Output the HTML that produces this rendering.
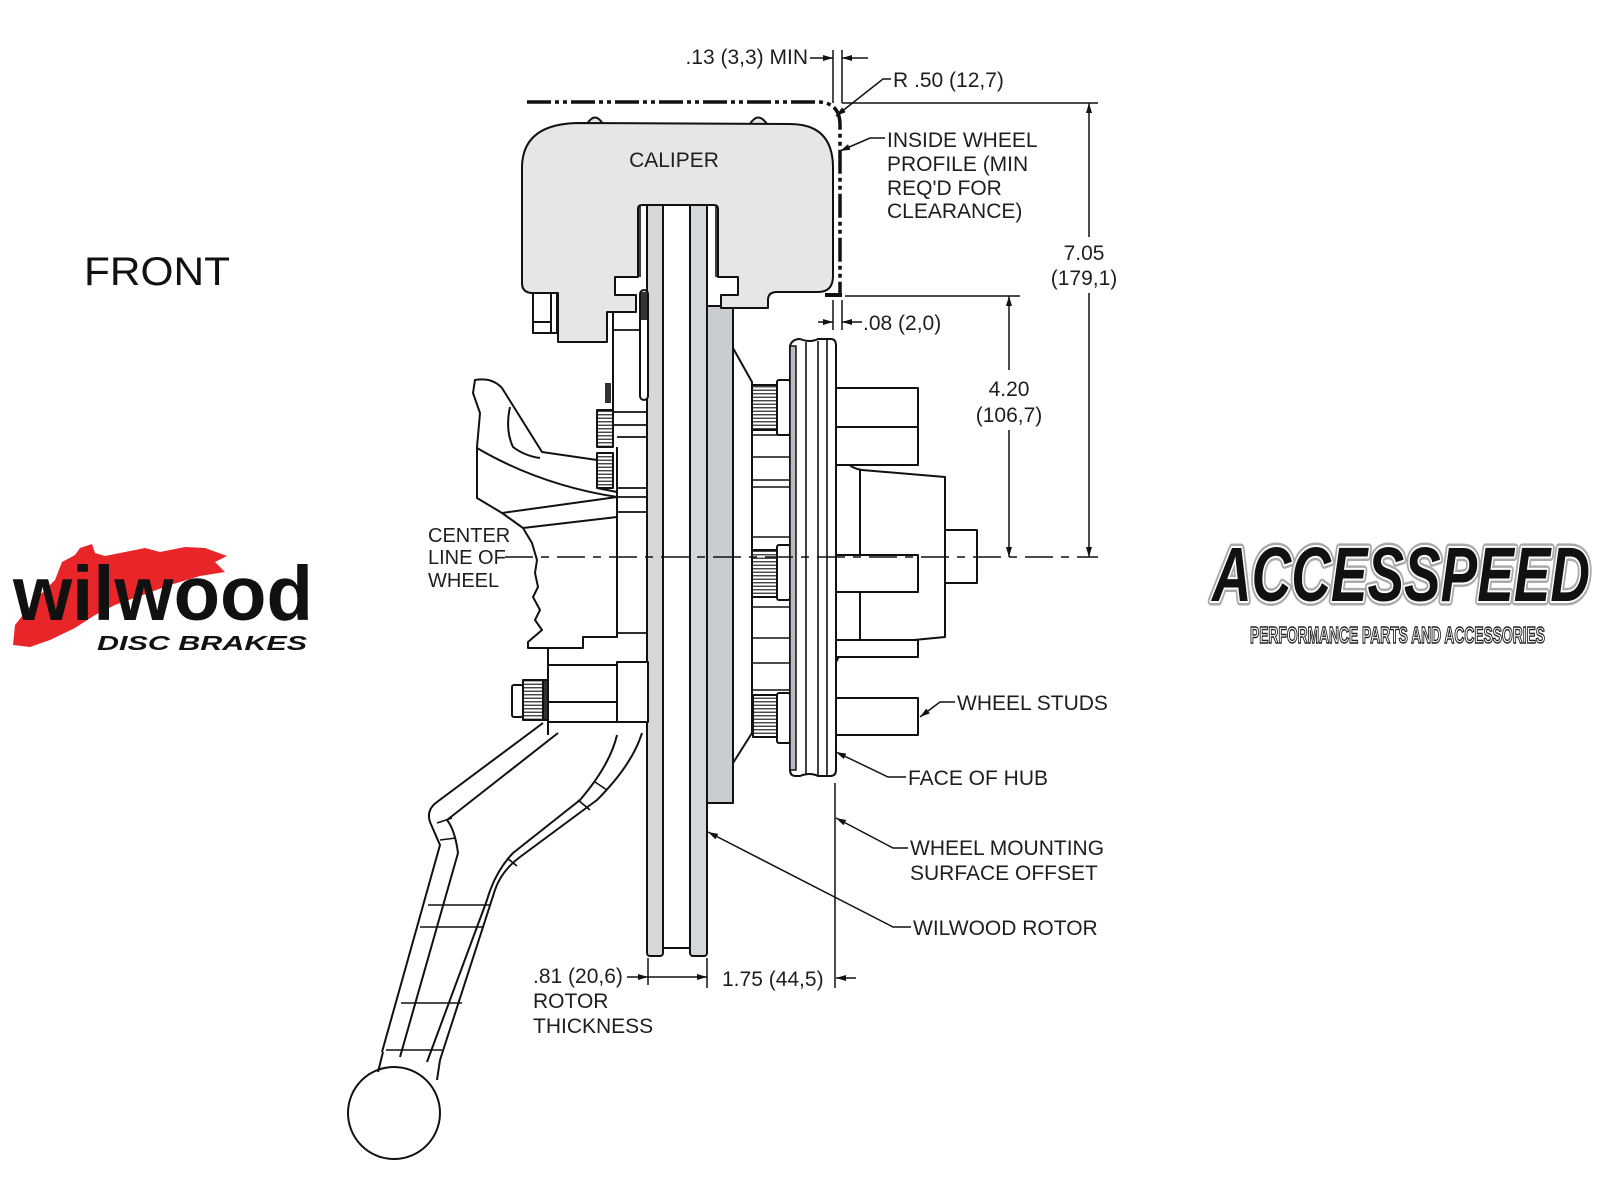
<!DOCTYPE html>
<html><head><meta charset="utf-8"><style>
html,body{margin:0;padding:0;background:#fff;}
svg{display:block;}
text{font-family:"Liberation Sans",Arial,sans-serif;}
</style></head><body>
<svg width="1600" height="1200" viewBox="0 0 1600 1200" xmlns="http://www.w3.org/2000/svg">
<defs>
<marker id="a" viewBox="0 0 10 6" refX="10" refY="3" markerWidth="11" markerHeight="6" markerUnits="userSpaceOnUse" orient="auto"><path d="M0,0L10,3L0,6z" fill="#111"/></marker>
<pattern id="k" width="4" height="3.5" patternUnits="userSpaceOnUse"><rect width="4" height="3.5" fill="#fff"/><line x1="0" y1="1.75" x2="4" y2="1.75" stroke="#333" stroke-width="1.3"/></pattern>
</defs>
<rect width="1600" height="1200" fill="#fff"/>

<!-- WILWOOD LOGO -->
<polygon fill="#e8262a" points="13,645 15,625 35,600 55,580 62,562 75,555 80,548 92,544 95,553 105,556 125,552 145,548 160,552 185,547 205,548 227,556 215,562 225,572 200,576 170,585 140,596 115,605 95,615 75,628 50,640 30,647"/>
<text x="13" y="620" font-size="77" font-weight="bold" fill="#111" textLength="300" lengthAdjust="spacingAndGlyphs">wilwood</text>
<text x="97" y="650" font-size="20" font-weight="bold" font-style="italic" fill="#111" textLength="210" lengthAdjust="spacingAndGlyphs">DISC BRAKES</text>

<!-- ACCESSPEED LOGO -->
<text x="1212" y="601" font-size="77" font-weight="bold" font-style="italic" fill="#999" stroke="#aaa" stroke-width="9" stroke-linejoin="round" textLength="378" lengthAdjust="spacingAndGlyphs">ACCESSPEED</text>
<text x="1212" y="601" font-size="77" font-weight="bold" font-style="italic" fill="#fff" stroke="#fff" stroke-width="4" stroke-linejoin="round" textLength="378" lengthAdjust="spacingAndGlyphs">ACCESSPEED</text>
<text x="1212" y="601" font-size="77" font-weight="bold" font-style="italic" fill="#111" textLength="378" lengthAdjust="spacingAndGlyphs">ACCESSPEED</text>
<text x="1250" y="643" font-size="23" font-weight="bold" fill="#fff" stroke="#222" stroke-width="1.4" textLength="295" lengthAdjust="spacingAndGlyphs">PERFORMANCE PARTS AND ACCESSORIES</text>

<!-- FRONT -->
<text x="84" y="285" font-size="40" fill="#111" textLength="146" lengthAdjust="spacingAndGlyphs">FRONT</text>

<g stroke="#111" stroke-width="2" fill="none" stroke-linejoin="round">
<!-- rotor -->
<rect x="647" y="200" width="16" height="756" rx="3" fill="#d5d8db"/>
<rect x="690" y="200" width="17" height="756" rx="3" fill="#d5d8db"/>
<line x1="663" y1="948" x2="690" y2="948"/>
<!-- hat -->
<rect x="707" y="306" width="26" height="497" fill="#c9ccd0"/>
<path d="M733,348 L752,382 L752,733 L733,763"/>
<g stroke-width="1.6">
<line x1="752" y1="435" x2="790" y2="435"/>
<line x1="752" y1="457" x2="790" y2="457"/>
<line x1="752" y1="480" x2="790" y2="480"/>
<line x1="752" y1="487" x2="790" y2="487"/>
<line x1="752" y1="537" x2="790" y2="537"/>
<line x1="752" y1="607" x2="790" y2="607"/>
<line x1="752" y1="638" x2="790" y2="638"/>
<line x1="752" y1="663" x2="790" y2="663"/>
<line x1="752" y1="690" x2="790" y2="690"/>
</g>
<!-- hub bolts -->
<rect x="752" y="385" width="25" height="45" fill="url(#k)"/>
<rect x="777" y="380" width="13" height="55" rx="2" fill="#fff"/>
<rect x="752" y="550" width="25" height="47" fill="url(#k)"/>
<rect x="777" y="545" width="13" height="55" rx="2" fill="#fff"/>
<rect x="753" y="695" width="24" height="42" fill="url(#k)"/>
<rect x="777" y="693" width="13" height="50" rx="2" fill="#fff"/>
<!-- hub body -->
<path d="M836,443 Q842,467 862,470 L945,477 L945,530 M945,583 L945,637 L862,645 Q842,648 836,662"/>
<line x1="860" y1="470" x2="860" y2="555"/>
<line x1="860" y1="592" x2="860" y2="645"/>
<rect x="945" y="530" width="32" height="53" fill="#fff"/>
<!-- studs -->
<rect x="836" y="388" width="82" height="39" fill="#fff"/>
<rect x="836" y="427" width="82" height="38" fill="#fff"/>
<rect x="836" y="555" width="82" height="37" fill="#fff"/>
<rect x="836" y="640" width="82" height="17" fill="#fff"/>
<rect x="836" y="698" width="82" height="37" fill="#fff"/>
<!-- flange -->
<path d="M790,346 Q792,339 800,339 Q810,343 818,339 L831,339 Q836,339 836,346 L836,770 Q836,776 830,776 L818,776 Q810,772 800,776 L796,776 Q790,776 790,770 Z" fill="#fff"/>
<rect x="790" y="346" width="6" height="424" fill="#b8bbbf" stroke-width="1.5"/>
<line x1="806" y1="342" x2="806" y2="774" stroke-width="1.6"/>
<line x1="818" y1="341" x2="818" y2="775" stroke-width="1.6"/>
<line x1="827" y1="340" x2="827" y2="775" stroke-width="1.6"/>

<!-- knuckle vertical region -->
<line x1="613" y1="312" x2="613" y2="410"/>
<line x1="617" y1="447" x2="617" y2="637"/>
<g stroke-width="1.8">
<line x1="613" y1="330" x2="640" y2="330"/>
<line x1="613" y1="412" x2="648" y2="412"/>
<line x1="613" y1="425" x2="648" y2="425"/>
<line x1="617" y1="437" x2="648" y2="437"/>
<line x1="617" y1="488" x2="648" y2="488"/>
<line x1="617" y1="497" x2="648" y2="497"/>
<line x1="617" y1="512" x2="648" y2="512"/>
<line x1="617" y1="633" x2="648" y2="633"/>
</g>
<rect x="640" y="290" width="8" height="110" rx="4" fill="#fff"/>
<rect x="641" y="292" width="6" height="28" fill="#333" stroke="none"/>
<rect x="605" y="383" width="6" height="20" fill="#333" stroke="none"/>
<rect x="597" y="410" width="16" height="37" fill="url(#k)"/>
<rect x="597" y="453" width="16" height="35" fill="url(#k)"/>

<!-- steering arm upper cut section -->
<path d="M475,380 Q492,377 502,388 L542,452 L597,460 L597,488 L617,492 L617,637 L583,637 L583,648 L528,648 L528,642 L542,630 L535,620 L540,610 L533,597 L538,587 L535,573 L537,560 L532,543 L523,528 L502,513 L477,498 L477,447 L480,413 L473,393 Z" fill="#fff"/>
<path d="M477,448 Q540,485 617,497"/>
<path d="M502,513 L617,497"/>
<path d="M523,528 L617,517"/>
<path d="M510,407 Q505,430 513,447 Q525,456 540,458"/>

<!-- lower knuckle -->
<line x1="548" y1="648" x2="548" y2="735"/>
<rect x="548" y="665" width="69" height="57" fill="#fff"/>
<line x1="548" y1="702" x2="617" y2="702"/>
<rect x="617" y="662" width="31" height="60" fill="#fff"/>
<rect x="512" y="685" width="11" height="32" rx="2" fill="#fff"/>
<rect x="523" y="680" width="20" height="40" fill="url(#k)"/>
<rect x="543" y="680" width="5" height="40" fill="#333"/>

<!-- lower arm -->
<path d="M543,723 L437,802 Q426,810 430,822 L440,845 L382,1052"/>
<path d="M558,733 L447,820 Q455,830 458,853 L400,1057"/>
<path d="M642,733 Q632,765 597,800 L520,857 Q500,872 494,893 L440,1060"/>
<path d="M617,735 Q610,765 580,800 L513,853 Q495,872 487,900 L427,1062"/>
<g stroke-width="1.6">
<line x1="428" y1="905" x2="490" y2="905"/>
<line x1="420" y1="927" x2="484" y2="927"/>
<line x1="401" y1="1003" x2="462" y2="1003"/>
<line x1="386" y1="1050" x2="442" y2="1050"/>
<line x1="507" y1="858" x2="517" y2="866"/>
<line x1="578" y1="800" x2="590" y2="810"/>
<line x1="595" y1="782" x2="607" y2="790"/>
<line x1="437" y1="823" x2="452" y2="818"/>
<line x1="440" y1="840" x2="456" y2="838"/>
</g>
<circle cx="394" cy="1113" r="46" fill="#fff"/>
<path d="M383,1052 L378,1072 M440,1060 L437,1080" />

<!-- caliper -->
<path d="M587,124 Q595,111 603,124 M750,124 Q758,111 767,124" fill="#e4e6e8"/>
<path d="M522,168 Q522,124 578,123 L790,124 Q833,124 833,168 L833,276 Q833,292 818,292 L777,292 Q768,292 768,300 L768,308 L721,308 L721,295 L738,295 L738,277 L718,277 L718,209 Q718,205 714,205 L642,205 Q638,205 638,209 L638,277 L615,277 L615,295 L636,295 L636,312 L607,312 L607,342 L558,342 L558,293 L533,293 Q522,293 522,283 Z" fill="#e4e6e8"/>
<rect x="533" y="293" width="24" height="40" fill="#fff"/>
<line x1="551" y1="293" x2="551" y2="333"/>
<line x1="533" y1="322" x2="551" y2="322"/>
<line x1="640" y1="205" x2="640" y2="277" stroke-width="1.6"/>
<line x1="716" y1="205" x2="716" y2="277" stroke-width="1.6"/>
</g>

<!-- wheel profile -->
<path d="M527,102 L817,102 Q840,102 840,125 L840,294" fill="none" stroke="#111" stroke-width="3.5" stroke-dasharray="24 4 4 4 4 4"/>
<line x1="825" y1="295" x2="842" y2="295" stroke="#111" stroke-width="4"/>

<!-- dimensions -->
<g stroke="#111" stroke-width="1.5" fill="none">
<line x1="833" y1="50" x2="833" y2="103"/>
<line x1="842" y1="50" x2="842" y2="103"/>
<line x1="810" y1="58" x2="833" y2="58" marker-end="url(#a)"/>
<line x1="868" y1="58" x2="842" y2="58" marker-end="url(#a)"/>
<polyline points="891,79 883,79 836,116" marker-end="url(#a)"/>
<line x1="842" y1="103" x2="1098" y2="103"/>
<line x1="1089" y1="237" x2="1089" y2="103" marker-end="url(#a)"/>
<line x1="1089" y1="293" x2="1089" y2="557" marker-end="url(#a)"/>
<line x1="845" y1="296" x2="1020" y2="296"/>
<line x1="1009" y1="370" x2="1009" y2="296" marker-end="url(#a)"/>
<line x1="1009" y1="430" x2="1009" y2="557" marker-end="url(#a)"/>
<line x1="833" y1="300" x2="833" y2="330"/>
<line x1="842" y1="300" x2="842" y2="330"/>
<line x1="818" y1="322" x2="833" y2="322" marker-end="url(#a)"/>
<line x1="862" y1="322" x2="842" y2="322" marker-end="url(#a)"/>
<polyline points="885,138 870,138 840,151" marker-end="url(#a)"/>
<line x1="505" y1="557" x2="1098" y2="557" stroke-dasharray="28 8 8 8"/>
<polyline points="955,702 940,702 920,717" marker-end="url(#a)"/>
<polyline points="906,777 888,777 836,752" marker-end="url(#a)"/>
<polyline points="908,848 893,848 836,818" marker-end="url(#a)"/>
<polyline points="911,927 893,927 708,832" marker-end="url(#a)"/>
<line x1="835" y1="783" x2="835" y2="988"/>
<line x1="648" y1="958" x2="648" y2="985"/>
<line x1="707" y1="958" x2="707" y2="988"/>
<line x1="627" y1="977" x2="648" y2="977" marker-end="url(#a)"/>
<line x1="648" y1="977" x2="707" y2="977" marker-end="url(#a)"/>
<line x1="856" y1="978" x2="836" y2="978" marker-end="url(#a)"/>
</g>

<!-- labels -->
<g font-size="21" fill="#1e1e1e">
<text x="674" y="167" text-anchor="middle">CALIPER</text>
<text x="808" y="64" text-anchor="end">.13 (3,3) MIN</text>
<text x="893" y="87">R .50 (12,7)</text>
<text x="887" y="147">INSIDE WHEEL</text>
<text x="887" y="171">PROFILE (MIN</text>
<text x="887" y="195">REQ'D FOR</text>
<text x="887" y="218">CLEARANCE)</text>
<text x="1084" y="260" text-anchor="middle">7.05</text>
<text x="1084" y="285" text-anchor="middle">(179,1)</text>
<text x="1009" y="396" text-anchor="middle">4.20</text>
<text x="1009" y="422" text-anchor="middle">(106,7)</text>
<text x="863" y="330">.08 (2,0)</text>
<text x="428" y="542" font-size="20">CENTER</text>
<text x="428" y="564" font-size="20">LINE OF</text>
<text x="428" y="587" font-size="20">WHEEL</text>
<text x="957" y="710">WHEEL STUDS</text>
<text x="908" y="785">FACE OF HUB</text>
<text x="910" y="855">WHEEL MOUNTING</text>
<text x="910" y="880">SURFACE OFFSET</text>
<text x="913" y="935">WILWOOD ROTOR</text>
<text x="722" y="986">1.75 (44,5)</text>
<text x="533" y="983">.81 (20,6)</text>
<text x="533" y="1008">ROTOR</text>
<text x="533" y="1033">THICKNESS</text>
</g>
</svg>
</body></html>
